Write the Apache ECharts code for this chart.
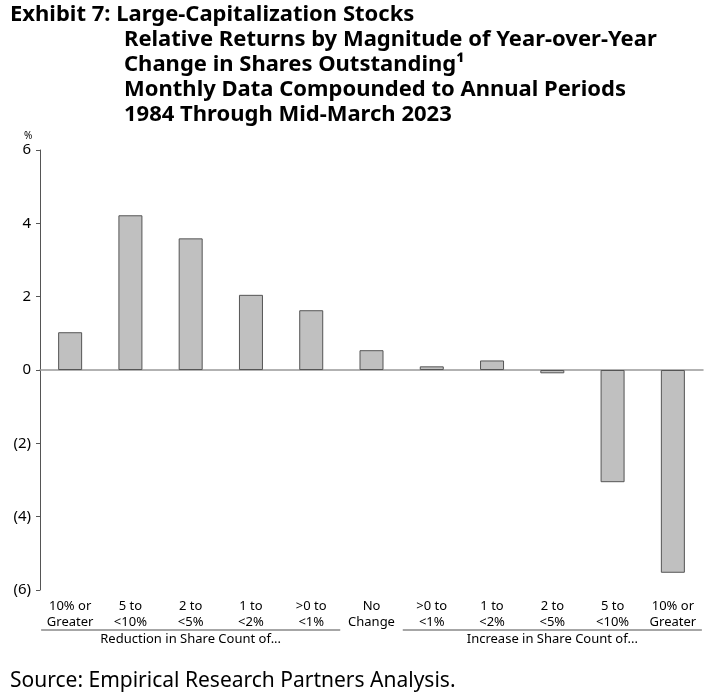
<!DOCTYPE html>
<html>
<head>
    <meta charset="utf-8">
    <title>Exhibit 7</title>
    <script src="https://cdn.jsdelivr.net/npm/echarts@6/dist/echarts.min.js"></script>
</head>
<body style="margin:0;background:#fff;">
    <div id="main" style="width:720px;height:695px;"></div>
    <script type="text/javascript">

    // categories (two-line labels) and relative returns in %
    var categories = ['10% or\nGreater', '5 to\n<10%', '2 to\n<5%', '1 to\n<2%', '>0 to\n<1%', 'No\nChange',
                      '>0 to\n<1%', '1 to\n<2%', '2 to\n<5%', '5 to\n<10%', '10% or\nGreater'];
    var values = [1.03, 4.22, 3.59, 2.05, 1.63, 0.54, 0.10, 0.26, -0.09, -3.06, -5.53];
    var groupNames = ['Reduction in Share Count of...', 'Increase in Share Count of...'];
    var groupRanges = [[0, 4], [6, 10]];

    var titleLines = ['Exhibit 7: Large-Capitalization Stocks',
        'Relative Returns by Magnitude of Year-over-Year\nChange in Shares Outstanding\u00b9\nMonthly Data Compounded to Annual Periods\n1984 Through Mid-March 2023'];
    var sourceText = 'Source: Empirical Research Partners Analysis.';

    var font = 'Noto Sans';
    var myChart = echarts.init(document.getElementById('main'));

    var option = {
        animation: false,
        backgroundColor: '#fff',
        title: [{
            text: titleLines[0], left: 10, top: 2, padding: 0,
            textStyle: { fontFamily: font, fontSize: 22, fontWeight: 'bold', color: '#000', lineHeight: 25 }
        }, {
            text: titleLines[1], left: 124, top: 27, padding: 0,
            textStyle: { fontFamily: font, fontSize: 22, fontWeight: 'bold', color: '#000', lineHeight: 25 }
        }, {
            text: sourceText, left: 10, top: 671, padding: 0,
            textStyle: { fontFamily: font, fontSize: 21, fontWeight: 'normal', color: '#000' }
        }],
        grid: { left: 40, right: 17, top: 150, bottom: 105 },
        xAxis: [{
            type: 'category',
            data: categories,
            axisLine: { onZero: true, lineStyle: { color: '#999', width: 1.5 } },
            axisTick: { show: false },
            axisLabel: { show: false }
        }, {
            type: 'category',
            data: categories,
            position: 'bottom',
            axisLine: { show: false, onZero: false },
            axisTick: { show: false },
            axisLabel: { fontFamily: font, fontSize: 13, color: '#000', lineHeight: 16, margin: 8, interval: 0 }
        }],
        yAxis: {
            type: 'value',
            min: -6, max: 6, interval: 2,
            axisLine: { show: true, lineStyle: { color: '#555' } },
            axisTick: { show: true, length: 4, lineStyle: { color: '#555' } },
            splitLine: { show: false },
            axisLabel: {
                fontFamily: font, fontSize: 15, color: '#000', margin: 9,
                formatter: function (v) { return v < 0 ? '(' + (-v) + ')' : String(v); }
            }
        },
        series: [{
            type: 'bar',
            data: values,
            barWidth: 24,
            itemStyle: { color: '#c0c0c0', borderColor: '#555', borderWidth: 1 }
        }]
    };

    myChart.setOption(option);

    // percent sign and group annotations placed from the axis scale
    var graphics = [{
        type: 'text', left: 24, top: 131,
        style: { text: '%', font: '10px "Noto Sans"', fill: '#000' }
    }];
    groupRanges.forEach(function (r, i) {
        var x0 = myChart.convertToPixel({ xAxisIndex: 0 }, r[0]) - 29;
        var x1 = myChart.convertToPixel({ xAxisIndex: 0 }, r[1]) + 29;
        graphics.push({
            type: 'line', shape: { x1: x0, y1: 630, x2: x1, y2: 630 },
            style: { stroke: '#888', lineWidth: 1.5 }
        });
        graphics.push({
            type: 'text', x: (x0 + x1) / 2, y: 633,
            style: { text: groupNames[i], font: '13px "Noto Sans"', fill: '#000', align: 'center', verticalAlign: 'top' }
        });
    });
    myChart.setOption({ graphic: graphics });
    </script>
</body>
</html>
